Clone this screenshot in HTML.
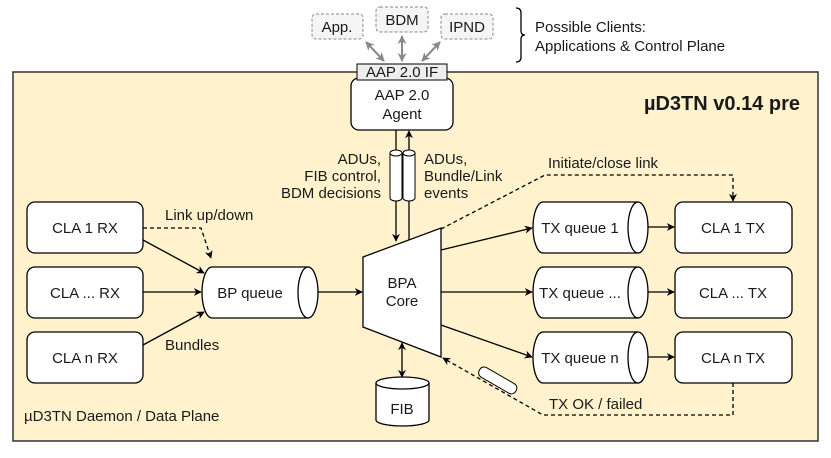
<!DOCTYPE html>
<html><head><meta charset="utf-8"><style>
html,body{margin:0;padding:0;background:#fff}
svg{display:block}
text{font-family:"Liberation Sans",sans-serif;font-size:15px;fill:#1a1a1a}
</style></head><body>
<svg width="831" height="458" viewBox="0 0 831 458" xmlns="http://www.w3.org/2000/svg">
<defs>
<marker id="a" viewBox="0 0 10 10" refX="9" refY="5" markerWidth="8" markerHeight="8" orient="auto-start-reverse" markerUnits="userSpaceOnUse"><path d="M0,0 L10,5 L0,10 L3,5 z" fill="#000"/></marker>
<marker id="g" viewBox="0 0 10 10" refX="9" refY="5" markerWidth="9" markerHeight="9" orient="auto-start-reverse" markerUnits="userSpaceOnUse"><path d="M0,0 L10,5 L0,10 L3,5 z" fill="#888"/></marker>
</defs>
<rect x="13" y="72" width="805" height="369" fill="#fff2cc" stroke="#333" stroke-width="1.5"/>
<g fill="#f5f5f5" stroke="#888" stroke-dasharray="3,2">
<rect x="312" y="14" width="51" height="25" rx="4"/>
<rect x="376" y="7" width="52" height="25" rx="4"/>
<rect x="441" y="14" width="52" height="25" rx="4"/>
</g>
<text x="337" y="32" text-anchor="middle">App.</text>
<text x="402" y="25" text-anchor="middle">BDM</text>
<text x="467" y="32" text-anchor="middle">IPND</text>
<g stroke="#888" stroke-width="2">
<line x1="366" y1="42" x2="384" y2="61" marker-start="url(#g)" marker-end="url(#g)"/>
<line x1="402" y1="36" x2="402" y2="61" marker-start="url(#g)" marker-end="url(#g)"/>
<line x1="440" y1="42" x2="422" y2="61" marker-start="url(#g)" marker-end="url(#g)"/>
</g>
<path d="M516,8 q5,0 5,5 v18 q0,4 4,4 q-4,0 -4,4 v18 q0,5 -5,5" fill="none" stroke="#000" stroke-width="1.3"/>
<text x="535" y="32">Possible Clients:</text>
<text x="535" y="51">Applications &amp; Control Plane</text>
<rect x="351" y="78" width="102" height="52" rx="8" fill="#fff" stroke="#000" stroke-width="1.3"/>
<rect x="357" y="64" width="90" height="16" fill="#eee" stroke="#000"/>
<text x="402" y="77" text-anchor="middle">AAP 2.0 IF</text>
<text x="402" y="100" text-anchor="middle">AAP 2.0</text>
<text x="402" y="119" text-anchor="middle">Agent</text>
<text x="800" y="110" text-anchor="end" style="font-size:20px;font-weight:bold">µD3TN v0.14 pre</text>
<line x1="396" y1="130" x2="396" y2="241" stroke="#000" stroke-width="1.3" marker-end="url(#a)"/>
<line x1="409" y1="240" x2="409" y2="131" stroke="#000" stroke-width="1.3" marker-end="url(#a)"/>
<g fill="#fff" stroke="#000">
<path d="M390,153 v45 a6,3 0 0 0 12,0 v-45"/><ellipse cx="396" cy="153" rx="6" ry="3"/>
<path d="M403,153 v45 a6,3 0 0 0 12,0 v-45"/><ellipse cx="409" cy="153" rx="6" ry="3"/>
</g>
<text x="381" y="164" text-anchor="end">ADUs,</text>
<text x="381" y="181" text-anchor="end">FIB control,</text>
<text x="381" y="198" text-anchor="end">BDM decisions</text>
<text x="424" y="164">ADUs,</text>
<text x="424" y="181">Bundle/Link</text>
<text x="424" y="198">events</text>
<g fill="#fff" stroke="#000" stroke-width="1.3">
<rect x="27" y="202" width="116" height="51" rx="8"/>
<rect x="27" y="267" width="116" height="51" rx="8"/>
<rect x="27" y="332" width="116" height="51" rx="8"/>
<rect x="675" y="202" width="117" height="51" rx="8"/>
<rect x="675" y="267" width="117" height="51" rx="8"/>
<rect x="675" y="332" width="117" height="51" rx="8"/>
</g>
<text x="85" y="233" text-anchor="middle">CLA 1 RX</text>
<text x="85" y="298" text-anchor="middle">CLA ... RX</text>
<text x="85" y="363" text-anchor="middle">CLA n RX</text>
<text x="733" y="233" text-anchor="middle">CLA 1 TX</text>
<text x="733" y="298" text-anchor="middle">CLA ... TX</text>
<text x="733" y="363" text-anchor="middle">CLA n TX</text>
<g fill="#fff" stroke="#000" stroke-width="1.3">
<path d="M308,267 H212 a10,25.5 0 0 0 0,51 H308"/><ellipse cx="308" cy="292.5" rx="10" ry="25.5"/>
<path d="M638,202 H543 a10,25.5 0 0 0 0,51 H638"/><ellipse cx="638" cy="227.5" rx="10" ry="25.5"/>
<path d="M638,267 H543 a10,25.5 0 0 0 0,51 H638"/><ellipse cx="638" cy="292.5" rx="10" ry="25.5"/>
<path d="M638,332 H543 a10,25.5 0 0 0 0,51 H638"/><ellipse cx="638" cy="357.5" rx="10" ry="25.5"/>
</g>
<text x="250" y="298" text-anchor="middle">BP queue</text>
<text x="580" y="233" text-anchor="middle">TX queue 1</text>
<text x="580" y="298" text-anchor="middle">TX queue ...</text>
<text x="580" y="363" text-anchor="middle">TX queue n</text>
<path d="M363,257 L441,228 L441,357 L363,327 Z" fill="#fff" stroke="#000" stroke-width="1.3"/>
<text x="402" y="288" text-anchor="middle">BPA</text>
<text x="402" y="306" text-anchor="middle">Core</text>
<g fill="#fff" stroke="#000" stroke-width="1.3">
<path d="M376,383 v37 a26.5,6 0 0 0 53,0 v-37"/><ellipse cx="402.5" cy="383" rx="26.5" ry="6"/>
</g>
<text x="402" y="414" text-anchor="middle">FIB</text>
<g stroke="#000" stroke-width="1.3" fill="none">
<line x1="143" y1="240" x2="204" y2="273" marker-end="url(#a)"/>
<line x1="143" y1="292" x2="201" y2="292" marker-end="url(#a)"/>
<line x1="143" y1="345" x2="204" y2="312" marker-end="url(#a)"/>
<line x1="318" y1="292" x2="362" y2="292" marker-end="url(#a)"/>
<line x1="441" y1="250" x2="532" y2="228" marker-end="url(#a)"/>
<line x1="441" y1="292" x2="532" y2="292" marker-end="url(#a)"/>
<line x1="441" y1="325" x2="532" y2="357" marker-end="url(#a)"/>
<line x1="648" y1="227" x2="674" y2="227" marker-end="url(#a)"/>
<line x1="648" y1="292" x2="674" y2="292" marker-end="url(#a)"/>
<line x1="648" y1="357" x2="674" y2="357" marker-end="url(#a)"/>
<line x1="402" y1="343" x2="402" y2="377" marker-start="url(#a)" marker-end="url(#a)"/>
</g>
<g stroke="#000" stroke-width="1.3" fill="none" stroke-dasharray="4,3">
<path d="M143,228 H201 L211,258" marker-end="url(#a)"/>
<path d="M441,229 L545,175 H733 V201" marker-end="url(#a)"/>
<path d="M733,383 V415 H543 L443,358" marker-end="url(#a)"/>
</g>
<rect x="477" y="375" width="42" height="11" rx="5" fill="#fff" stroke="#000" transform="rotate(30 498 380)"/>
<text x="165" y="220">Link up/down</text>
<text x="165" y="350">Bundles</text>
<text x="548" y="168">Initiate/close link</text>
<text x="549" y="409">TX OK / failed</text>
<text x="24" y="421">µD3TN Daemon / Data Plane</text>
</svg>
</body></html>
